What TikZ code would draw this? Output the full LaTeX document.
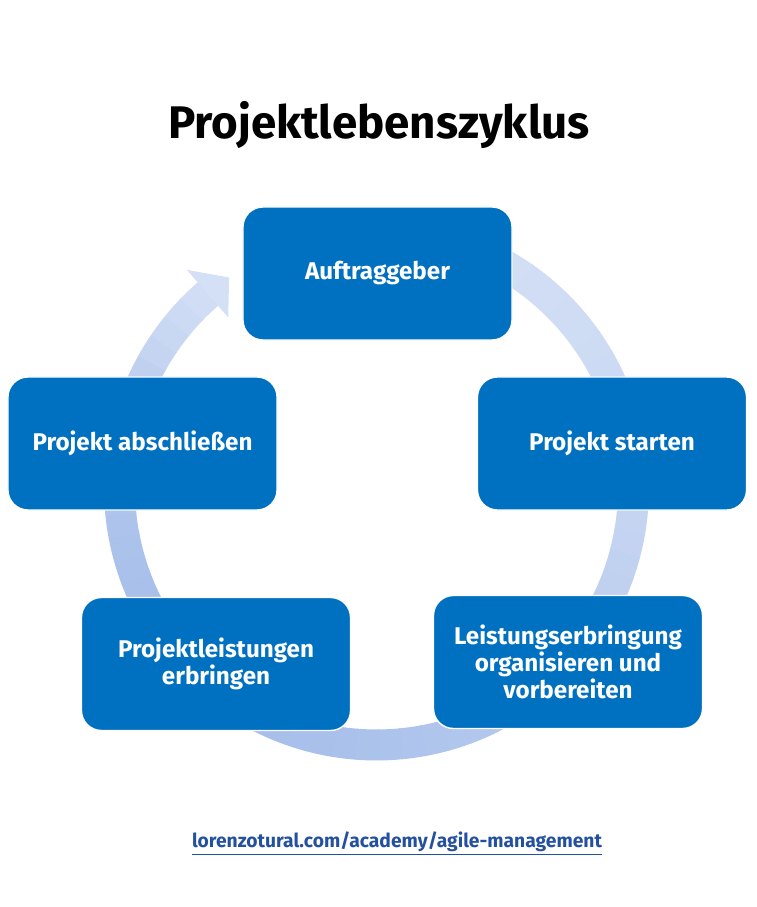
\documentclass[tikz,border=0pt]{standalone}
\usepackage{fontspec}
\setmainfont{Fira Sans}
\usetikzlibrary{calc}
\usepackage{xcolor}
\definecolor{stepblue}{RGB}{0,112,192}
\definecolor{ringlight}{RGB}{212,224,245}
\definecolor{ringdark}{RGB}{166,190,234}
\definecolor{linkblue}{RGB}{36,80,160}

\begin{document}
\begin{tikzpicture}[
    x=0.025cm, y=0.025cm, % one unit = one pixel of the reference
    every node/.style={text centered, inner sep=2pt}, % General node style
    stepbox/.style={draw=white, line width=1pt, fill=stepblue, rounded corners=0.5cm, text=white, minimum width=6.725cm, minimum height=3.325cm, align=center, font=\fontsize{17.2}{19}\selectfont\bfseries}, % Phase
    heading/.style={font=\fontsize{32.5}{38}\selectfont\bfseries}, % Title
    weblink/.style={text=linkblue, font=\fontsize{13.7}{16}\selectfont\bfseries} % Source
]
\useasboundingbox (0,0) rectangle (756,907);
\coordinate (hub) at (376.5,419);

% cycle ring, shaded piece by piece
\foreach \i in {0,...,67} {
    \pgfmathsetmacro{\a}{110-4.985*\i}
    \pgfmathsetmacro{\p}{100*sin(180*(\i/68)^2)}
    \draw[ringdark!\p!ringlight, line width=0.775cm] ($(hub)+(\a:257)$) arc[start angle=\a, delta angle=-5.2, radius=257];
}
\fill[ringlight] ($(hub)+(131:226)$) -- ($(hub)+(125:257)$) -- ($(hub)+(131:289)$) -- cycle;

\node[heading, anchor=base] (title) at (379,768) {Projektlebenszyklus};

\node[stepbox] (client) at (377.5,633.5) {Auftraggeber};
\node[stepbox] (start) at (612,463.5) {Projekt starten};
\node[stepbox] (organise) at (568,245) {Leistungserbringung\\organisieren und\\vorbereiten};
\node[stepbox] (deliver) at (216,243) {Projektleistungen\\erbringen};
\node[stepbox] (close) at (142.5,463.5) {Projekt abschließen};

\node[weblink, anchor=base] (url) at (397,59) {\underline{lorenzotural.com/academy/agile-management}};
\end{tikzpicture}
\end{document}
